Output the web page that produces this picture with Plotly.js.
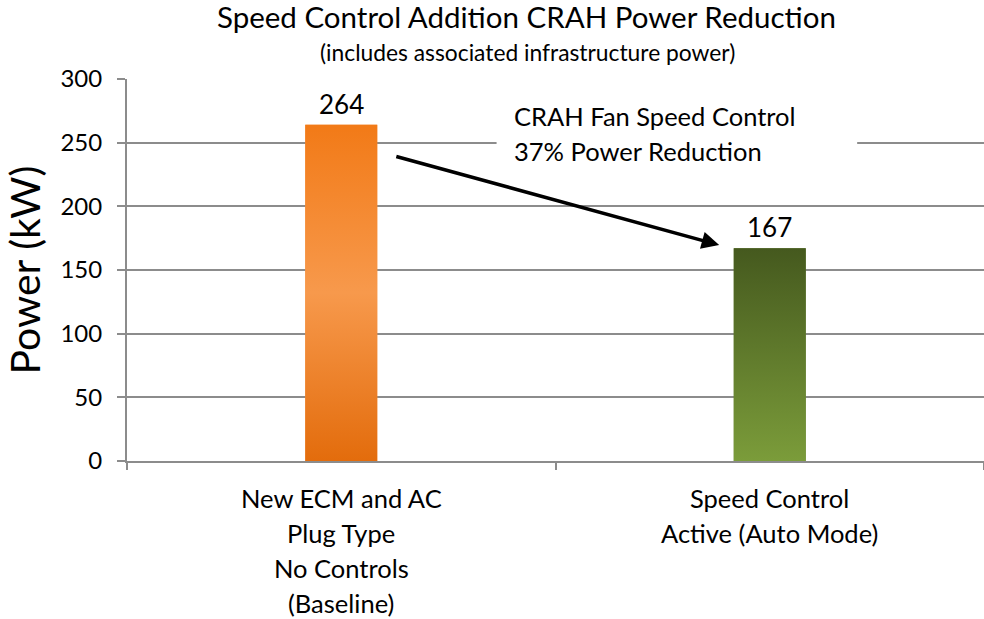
<!DOCTYPE html>
<html><head><meta charset="utf-8">
<script src="https://cdn.plot.ly/plotly-3.0.1.min.js"></script>
<style>body{margin:0;background:#fff}</style>
</head><body><div id="chart" style="width:984px;height:619px"></div>
<script>
// ---- data ----
const categories = ["New ECM and AC Plug Type No Controls (Baseline)", "Speed Control Active (Auto Mode)"];
const categoryLines = [["New ECM and AC", "Plug Type", "No Controls", "(Baseline)"], ["Speed Control", "Active (Auto Mode)"]];
const power = [264, 167];
const valueLabels = ["264", "167"];
const yTicks = [0, 50, 100, 150, 200, 250, 300];
const chartTitle = "Speed Control Addition CRAH Power Reduction";
const chartSubtitle = "(includes associated infrastructure power)";
const yTitle = "Power (kW)";
const noteLines = ["CRAH Fan Speed Control", "37% Power Reduction"];

// ---- styles ----
const FONT = "Lato, 'Open Sans', sans-serif";
const GRID = "#8c8c8c";
const barMidColors = ["#F5913F", "#5E7A2C"];
const barScales = [
  [[0, "#E36C0C"], [0.5, "#F7994C"], [1, "#F27A17"]],
  [[0, "#7B9C3A"], [1, "#45591E"]]
];
const BAR_W = 0.168;
const xPos = categories.map((c, i) => i);

const traces = [];
traces.push({
  type: "bar", x: xPos, y: power, width: BAR_W, name: "Power (kW)",
  marker: {color: barMidColors, line: {width: 0}}, hoverinfo: "y", text: categories, textposition: "none"
});
power.forEach((v, i) => {
  const h = BAR_W / 2;
  traces.push({
    type: "scatter", mode: "none", fill: "toself",
    x: [i - h, i + h, i + h, i - h, i - h],
    y: [0, 0, v, v, 0],
    fillgradient: {type: "vertical", colorscale: barScales[i]},
    hoverinfo: "skip", showlegend: false
  });
});
// invisible trace for boundary-tick axis
traces.push({type: "scatter", mode: "none", x: xPos, y: power, xaxis: "x2", yaxis: "y", hoverinfo: "skip", showlegend: false});

const annotations = [];
power.forEach((v, i) => {
  annotations.push({
    x: i, y: v, xref: "x", yref: "y", text: valueLabels[i], showarrow: false,
    yanchor: "bottom", yshift: 3, bgcolor: "#fff", borderpad: 1,
    font: {family: FONT, size: 26, color: "#000"}
  });
});
categoryLines.forEach((lines, i) => {
  lines.forEach((t, k) => {
    annotations.push({
      x: i, y: 0, xref: "x", yref: "paper", text: t, showarrow: false,
      yanchor: "middle", yshift: -37 - 35 * k,
      font: {family: FONT, size: 25.5, color: "#000"}
    });
  });
});
noteLines.forEach((t, k) => {
  annotations.push({
    x: 0.399, y: 1, xref: "x", yref: "paper", text: t, showarrow: false,
    xanchor: "left", yanchor: "middle", yshift: -37 - 35 * k, align: "left",
    font: {family: FONT, size: 25.5, color: "#000"}
  });
});
// arrow from first bar toward second
annotations.push({
  x: 0.882, y: 169.6, xref: "x", yref: "y",
  ax: 0.125, ay: 239.5, axref: "x", ayref: "y",
  text: "", showarrow: true, arrowhead: 2, arrowsize: 1, arrowwidth: 3.5, arrowcolor: "#000", standoff: 0
});
// subtitle
annotations.push({
  x: 0.467, y: 1, xref: "paper", yref: "paper", yshift: 79 - 52, text: chartSubtitle, showarrow: false,
  xanchor: "center", yanchor: "middle", font: {family: FONT, size: 22.8, color: "#000"}
});

const layout = {
  width: 984, height: 619,
  margin: {l: 127, r: 0, t: 79, b: 158},
  paper_bgcolor: "#fff", plot_bgcolor: "#fff",
  showlegend: false,
  font: {family: FONT, color: "#000"},
  title: {
    text: chartTitle, x: 0.535, xanchor: "center", y: 1 - 18 / 619, yanchor: "middle",
    font: {family: FONT, size: 29.5, color: "#000"}
  },
  xaxis: {
    range: [-0.5, 1.5], tickvals: xPos, showticklabels: false, ticks: "",
    showgrid: false, zeroline: false, showline: true, linecolor: GRID, linewidth: 2, fixedrange: true
  },
  xaxis2: {
    overlaying: "x", anchor: "y", side: "bottom", range: [-0.5, 1.5],
    tickvals: [-0.5, 0.5, 1.5], ticks: "outside", ticklen: 8, tickwidth: 2, tickcolor: GRID,
    showticklabels: false, showgrid: false, zeroline: false, showline: false, fixedrange: true
  },
  yaxis: {
    range: [0, 300], tickvals: yTicks, ticks: "outside", ticklen: 8, tickwidth: 2, tickcolor: GRID,
    showgrid: true, gridcolor: GRID, gridwidth: 2, zeroline: false,
    showline: true, linecolor: GRID, linewidth: 2,
    tickfont: {family: FONT, size: 24, color: "#000"}, ticklabelstandoff: 10,
    title: {text: yTitle, font: {family: FONT, size: 41, color: "#000"}, standoff: 12},
    fixedrange: true
  },
  shapes: [{
    type: "rect", xref: "x", yref: "paper", x0: 0.3625, x1: 1.204, y0: 0.72, y1: 0.96,
    fillcolor: "#fff", line: {width: 0}, layer: "above"
  }],
  annotations: annotations
};

Plotly.newPlot("chart", traces, layout, {displayModeBar: false, staticPlot: true});
</script>
</body></html>
